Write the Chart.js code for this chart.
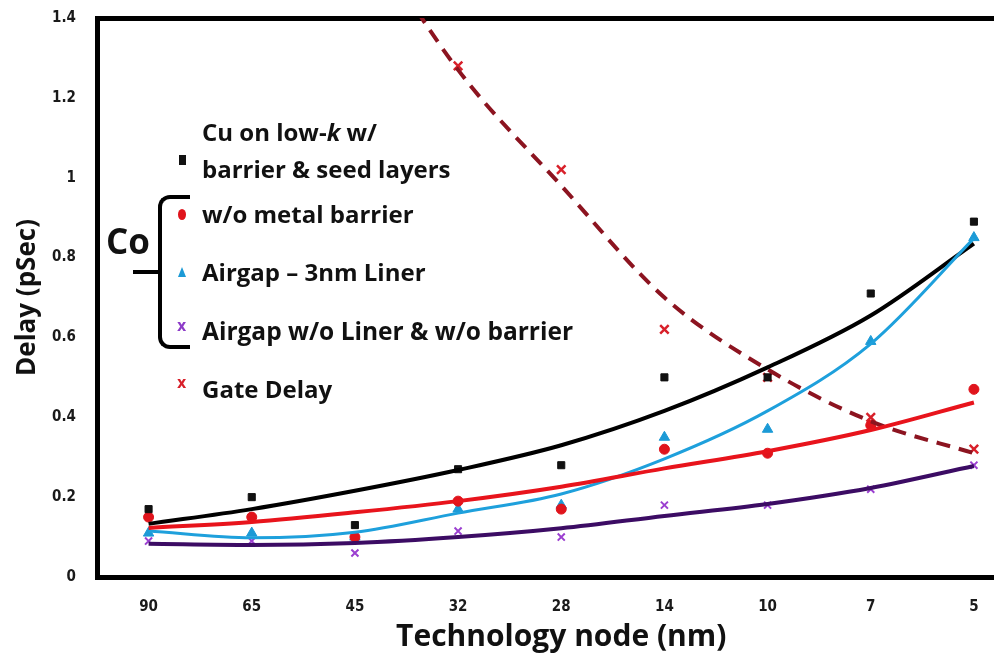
<!DOCTYPE html>
<html>
<head>
<meta charset="utf-8">
<script src="https://cdn.jsdelivr.net/npm/chart.js@4"></script>
<style>
body { margin: 0; background: #fff; width: 994px; height: 660px; overflow: hidden; }
#wrap { position: relative; width: 1034px; height: 660px; }
.lg { position: absolute; font-family: 'Open Sans', Lato, sans-serif; font-weight: bold; font-size: 24px; line-height: 24px; color: #111; white-space: nowrap; }
.mk { position: absolute; }
</style>
</head>
<body>
<div id="wrap">
<canvas id="delayChart"></canvas>

<div class="lg" style="left:202px; top:120px;">Cu on low-<i>k</i> w/</div>
<div class="lg" style="left:202px; top:157px;">barrier &amp; seed layers</div>
<div class="lg" style="left:202px; top:202px;">w/o metal barrier</div>
<div class="lg" style="left:202px; top:260px;">Airgap – 3nm Liner</div>
<div class="lg" style="left:202px; top:319px; font-size:24.5px;">Airgap w/o Liner &amp; w/o barrier</div>
<div class="lg" style="left:202px; top:377px;">Gate Delay</div>
<div class="lg" style="left:106px; top:223px; font-size:35px; line-height:35px;">Co</div>

<!-- brace -->
<div class="mk" style="left:158px; top:195px; width:28px; height:146px; border:4px solid #000; border-right:none; border-radius:12px 0 0 12px;"></div>
<div class="mk" style="left:133px; top:270px; width:27px; height:4px; background:#000;"></div>

<!-- legend markers -->
<div class="mk" style="left:179px; top:155px; width:7px; height:10px; background:#111;"></div>
<div class="mk" style="left:178px; top:209px; width:8px; height:11px; background:#e0141c; border-radius:50%;"></div>
<div class="mk" style="left:178px; top:267px; width:0; height:0; border-left:4px solid transparent; border-right:4px solid transparent; border-bottom:10px solid #1c9ad6;"></div>
<div class="mk" style="left:177px; top:316px; font:bold 16px 'DejaVu Sans Condensed', sans-serif; color:#8d3cc8;">x</div>
<div class="mk" style="left:177px; top:373px; font:bold 16px 'DejaVu Sans Condensed', sans-serif; color:#d8202a;">x</div>
</div>

<script>
// technology nodes (nm)
const categories = ['90', '65', '45', '32', '28', '14', '10', '7', '5'];
const yTicks = [0, 0.2, 0.4, 0.6, 0.8, 1, 1.2, 1.4];

// measured delay (pSec)
const cuLowK = [0.17, 0.20, 0.13, 0.27, 0.28, 0.50, 0.50, 0.71, 0.89];
const coNoBarrier = [0.15, 0.15, 0.10, 0.19, 0.17, 0.32, 0.31, 0.38, 0.47];
const airgapLiner = [0.11, 0.11, 0.10, 0.17, 0.18, 0.35, 0.37, 0.59, 0.85];
const airgapNoLiner = [0.09, 0.09, 0.06, 0.115, 0.10, 0.18, 0.18, 0.22, 0.28];
const gateDelay = [null, null, null, 1.28, 1.02, 0.62, 0.50, 0.40, 0.32];

// trend curves
const cuLowKFit = [0.133, 0.17, 0.216, 0.268, 0.33, 0.416, 0.525, 0.655, 0.835];
const coNoBarrierFit = [0.123, 0.138, 0.162, 0.19, 0.226, 0.272, 0.315, 0.368, 0.437];
const airgapLinerFit = [0.115, 0.098, 0.112, 0.16, 0.208, 0.296, 0.416, 0.584, 0.848];
const airgapNoLinerFit = [0.083, 0.08, 0.085, 0.1, 0.122, 0.153, 0.183, 0.223, 0.278];
const gateDelayFit = [null, null, 1.66, 1.27, 0.98, 0.70, 0.52, 0.39, 0.31];

function fitLine(data, color, width, dash) {
    return {
        type: 'line',
        data: data,
        borderColor: color,
        borderWidth: width,
        borderDash: dash || [],
        pointRadius: 0,
        cubicInterpolationMode: 'monotone',
        fill: false
    };
}

function marks(data, color, style, radius, bw) {
    return {
        type: 'line',
        data: data,
        showLine: false,
        pointStyle: style,
        pointRadius: radius,
        pointBackgroundColor: color,
        pointBorderColor: color,
        pointBorderWidth: bw || 1
    };
}

const tickFont = { family: "'Liberation Sans Narrow', 'DejaVu Sans Condensed', sans-serif", size: 15, weight: 'bold' };

const ctx = document.getElementById('delayChart').getContext('2d');
const delayChart = new Chart(ctx, {
type: 'line',
data: {
labels: categories,
datasets: [
    fitLine(airgapNoLinerFit, '#3c0c64', 4),
    fitLine(coNoBarrierFit, '#e8141c', 4),
    fitLine(airgapLinerFit, '#1ea0dc', 3),
    fitLine(cuLowKFit, '#000000', 4),
    fitLine(gateDelayFit, '#8c1420', 4, [14, 9]),
    marks(cuLowK, '#111111', 'rect', 5),
    marks(coNoBarrier, '#e0141c', 'circle', 5),
    marks(airgapLiner, '#1c9ad6', 'triangle', 6),
    marks(airgapNoLiner, '#9b3fd0', 'crossRot', 5, 2),
    marks(gateDelay, '#d8202a', 'crossRot', 6, 2.5)
]
},
options: {
responsive: true,
maintainAspectRatio: false,
animation: false,
layout: { padding: 0 },
plugins: {
    legend: { display: false },
    tooltip: { enabled: false }
},
scales: {
    x: {
        type: 'category',
        offset: true,
        grid: { display: false },
        border: { display: true, color: '#000', width: 5 },
        ticks: { padding: 13, color: '#1a1a1a', font: tickFont },
        title: {
            display: true,
            text: 'Technology node (nm)',
            color: '#111',
            padding: { top: 0, bottom: 5 },
            font: { family: "'Open Sans', Lato, sans-serif", size: 30, weight: 'bold' }
        },
        afterFit: function (scale) {
            scale.height = 83;
            scale.paddingLeft = 0;
            scale.paddingRight = 0;
        }
    },
    xTop: {
        type: 'category',
        position: 'top',
        offset: true,
        grid: { display: false },
        border: { display: true, color: '#000', width: 5 },
        ticks: { display: false },
        afterFit: function (scale) { scale.height = 18; }
    },
    y: {
        min: 0,
        max: 1.4,
        grid: { display: false },
        border: { display: true, color: '#000', width: 5 },
        afterBuildTicks: function (scale) {
            scale.ticks = yTicks.map(v => ({ value: v }));
        },
        ticks: {
            padding: 13,
            color: '#1a1a1a',
            font: tickFont,
            callback: function (v) { return String(v); }
        },
        title: {
            display: true,
            text: 'Delay (pSec)',
            color: '#111',
            padding: { top: 12, bottom: 0 },
            font: { family: "'Open Sans', Lato, sans-serif", size: 26, weight: 'bold' }
        },
        afterFit: function (scale) {
            scale.width = 97;
            scale.paddingTop = 0;
            scale.paddingBottom = 0;
        }
    }
}
}
}
);
</script>
</body>
</html>
